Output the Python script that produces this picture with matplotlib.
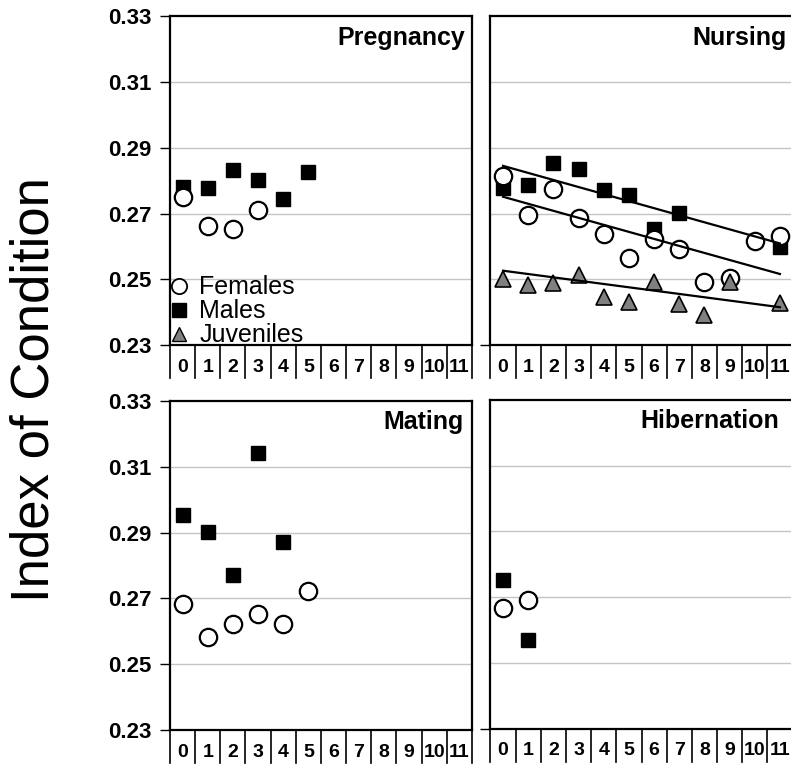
import matplotlib
matplotlib.use("Agg")
import matplotlib.pyplot as plt
import matplotlib.transforms as mtransforms
from matplotlib.lines import Line2D

plt.rcParams['font.family'] = ['Liberation Sans', 'DejaVu Sans']

# ---- data ----
month_labels = [str(m) for m in range(12)]
y_ticks = [0.23, 0.25, 0.27, 0.29, 0.31, 0.33]
grid_levels = [0.25, 0.27, 0.29, 0.31]

preg_f_x = [0, 1, 2, 3]
preg_f = [0.2751, 0.2663, 0.2652, 0.2710]
preg_m_x = [0, 1, 2, 3, 4, 5]
preg_m = [0.2781, 0.2779, 0.2832, 0.2802, 0.2743, 0.2827]

nurs_f_x = [0, 1, 2, 3, 4, 5, 6, 7, 8, 9, 10, 11]
nurs_f = [0.2815, 0.2695, 0.2776, 0.2685, 0.2639, 0.2565,
          0.2621, 0.2591, 0.2491, 0.2505, 0.2616, 0.2631]
nurs_m_x = [0, 1, 2, 3, 4, 5, 6, 7, 11]
nurs_m = [0.2778, 0.2786, 0.2855, 0.2834, 0.2771, 0.2756, 0.2652, 0.2702, 0.2599]
nurs_j_x = [0, 1, 2, 3, 4, 5, 6, 7, 8, 9, 11]
nurs_j = [0.2500, 0.2482, 0.2488, 0.2513, 0.2447, 0.2432,
          0.2493, 0.2424, 0.2391, 0.2493, 0.2429]
# trend lines in the nursing panel (end points)
trend_x = [0, 11]
nurs_m_trend = [0.2845, 0.2609]
nurs_f_trend = [0.2751, 0.2516]
nurs_j_trend = [0.2526, 0.2415]

mat_f_x = [0, 1, 2, 3, 4, 5]
mat_f = [0.2684, 0.2582, 0.2622, 0.2652, 0.2622, 0.2721]
mat_m_x = [0, 1, 2, 3, 4]
mat_m = [0.2953, 0.2901, 0.2772, 0.3141, 0.2871]

hib_f_x = [0, 1]
hib_f = [0.2668, 0.2690]
hib_m_x = [0, 1]
hib_m = [0.2752, 0.2571]

# ---- styles ----
male_kw = dict(ls='none', marker='s', ms=10, mfc='black', mec='black', zorder=3)
fem_kw = dict(ls='none', marker='o', ms=12.5, mfc='white', mec='black', mew=1.6, zorder=4)
juv_kw = dict(ls='none', marker='^', ms=11, mfc='#808080', mec='black', mew=1.2, zorder=5)

fig = plt.figure(figsize=(7.91, 7.67), dpi=100)
W, H = 0.3818, 0.4285
positions = {
    'Pregnancy': [0.2149, 0.5502, W, H],
    'Nursing': [0.6201, 0.5502, W, H],
    'Mating': [0.2149, 0.0485, W, H],
    'Hibernation': [0.6201, 0.0500, W, H],
}
title_x = {'Pregnancy': 0.978, 'Nursing': 0.98, 'Mating': 0.972, 'Hibernation': 0.955}

axes = {}
for name, pos in positions.items():
    ax = fig.add_axes(pos)
    axes[name] = ax
    ax.set_xlim(-0.5, 11.5)
    ax.set_ylim(0.23, 0.33)
    for lv in grid_levels:
        ax.axhline(lv, color='#c4c4c4', lw=1.0, zorder=1)
    for sp in ax.spines.values():
        sp.set_linewidth(1.6)
    ax.set_xticks([])
    left = name in ('Pregnancy', 'Mating')
    if left:
        ax.set_yticks(y_ticks)
        ax.set_yticklabels(['%.2f' % v for v in y_ticks], fontsize=16, fontweight='bold')
    else:
        ax.set_yticks([0.23])
        ax.set_yticklabels([''])
    ax.tick_params(axis='y', direction='out', length=7, width=1.0, pad=6)
    # month boxes under the axis
    trans = mtransforms.blended_transform_factory(ax.transData, ax.transAxes)
    for b in range(13):
        ax.plot([b - 0.5, b - 0.5], [0, -0.1], color='black', lw=1.2,
                transform=trans, clip_on=False)
    for i, lab in enumerate(month_labels):
        ax.text(i, -0.068, lab, transform=trans, ha='center', va='center',
                fontsize=14, fontweight='bold')
    ax.text(title_x[name], 0.972, name, transform=ax.transAxes, ha='right', va='top',
            fontsize=18, fontweight='bold')

ax = axes['Pregnancy']
ax.plot(preg_m_x, preg_m, **male_kw)
ax.plot(preg_f_x, preg_f, **fem_kw)
handles = [
    Line2D([], [], ls='none', marker='o', ms=11, mfc='white', mec='black', mew=1.3),
    Line2D([], [], ls='none', marker='s', ms=10, mfc='black', mec='black'),
    Line2D([], [], ls='none', marker='^', ms=10, mfc='#808080', mec='black', mew=1.0),
]
ax.legend(handles, ['Females', 'Males', 'Juveniles'], loc='lower left',
          bbox_to_anchor=(-0.01, -0.015), frameon=False, fontsize=18,
          handlelength=0.75, handletextpad=0.45, labelspacing=0.0,
          borderpad=0.1, borderaxespad=0)

ax = axes['Nursing']
ax.plot(nurs_m_x, nurs_m, **male_kw)
ax.plot(nurs_f_x, nurs_f, **fem_kw)
ax.plot(nurs_j_x, nurs_j, **juv_kw)
for tr in (nurs_m_trend, nurs_f_trend, nurs_j_trend):
    ax.plot(trend_x, tr, color='black', lw=1.6, zorder=6)

ax = axes['Mating']
ax.plot(mat_m_x, mat_m, **male_kw)
ax.plot(mat_f_x, mat_f, **fem_kw)

ax = axes['Hibernation']
ax.plot(hib_m_x, hib_m, **male_kw)
ax.plot(hib_f_x, hib_f, **fem_kw)

fig.text(0.043, 0.4915, 'Index of Condition', rotation=90, fontsize=38,
         ha='center', va='center')

fig.savefig('out.png', dpi=100)
